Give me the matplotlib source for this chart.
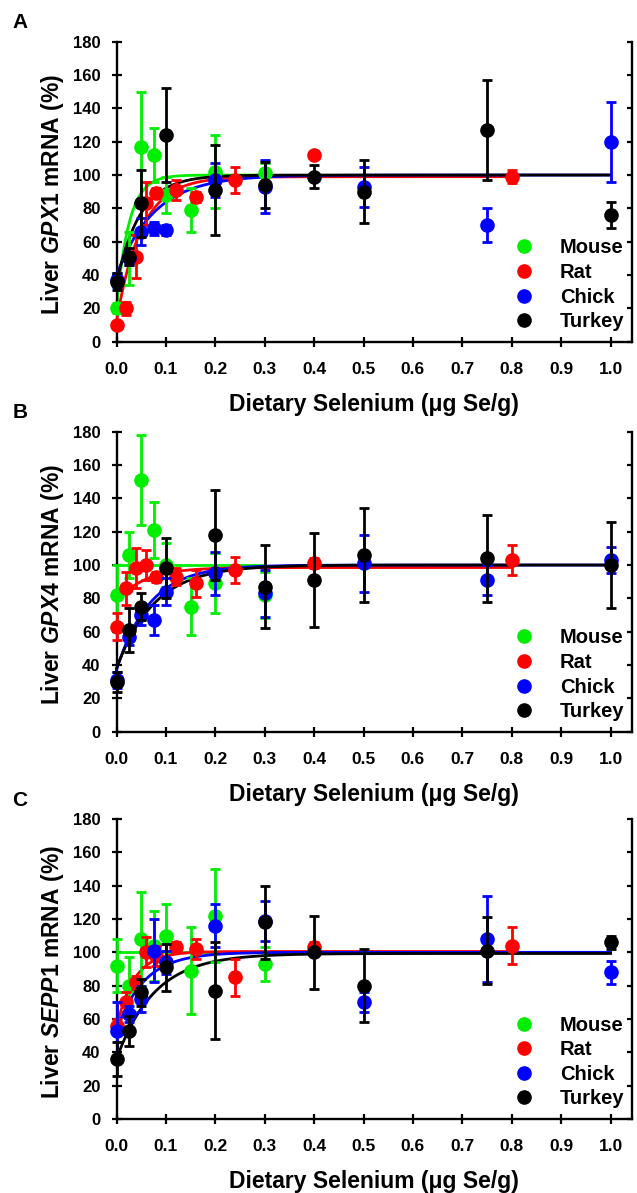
import matplotlib
matplotlib.use('Agg')
import matplotlib.pyplot as plt
from matplotlib.lines import Line2D
import numpy as np

plt.rcParams['font.family'] = ['Liberation Sans', 'DejaVu Sans']
plt.rcParams['font.weight'] = 'bold'
plt.rcParams['mathtext.fontset'] = 'custom'
plt.rcParams['mathtext.it'] = 'Liberation Sans:italic:bold'
plt.rcParams['mathtext.rm'] = 'Liberation Sans:bold'

# ---- data ----
SPECIES = ['Mouse', 'Rat', 'Chick', 'Turkey']
COLORS = ['#00ee00', '#ff0000', '#0000ff', '#000000']

# dietary Se levels per species
MOUSE_X = [0, 0.025, 0.05, 0.075, 0.1, 0.15, 0.2, 0.3]
RAT_X = [0, 0.02, 0.04, 0.06, 0.08, 0.12, 0.16, 0.24, 0.4, 0.8]
CHICK_X = [0, 0.025, 0.05, 0.075, 0.1, 0.2, 0.3, 0.5, 0.75, 1.0]
TURKEY_X = [0, 0.025, 0.05, 0.1, 0.2, 0.3, 0.4, 0.5, 0.75, 1.0]

# panel A: GPX1
GPX1_MOUSE = [20, 50, 117, 112, 88, 79, 102, 101]
GPX1_MOUSE_SE = [3, 16, 33, 16, 11, 13, 22, 6]
GPX1_RAT = [10, 20, 51, 83, 89, 91, 87, 97, 112, 99]
GPX1_RAT_SE = [2, 4, 13, 13, 3, 6, 3, 8, 2, 4]
GPX1_CHICK = [37, 50, 66, 68, 67, 97, 93, 93, 70, 120]
GPX1_CHICK_SE = [4, 4, 8, 4, 3, 10, 16, 12, 10, 24]
GPX1_TURKEY = [36, 51, 83, 124, 91, 94, 99, 90, 127, 76]
GPX1_TURKEY_SE = [5, 5, 20, 28, 27, 14, 7, 19, 30, 8]

# panel B: GPX4
GPX4_MOUSE = [82, 106, 151, 121, 100, 75, 89, 82]
GPX4_MOUSE_SE = [18, 14, 27, 17, 13, 17, 18, 14]
GPX4_RAT = [63, 86, 98, 100, 93, 93, 89, 97, 101, 103]
GPX4_RAT_SE = [8, 10, 12, 9, 3, 5, 8, 8, 3, 9]
GPX4_CHICK = [31, 57, 70, 67, 84, 95, 83, 101, 91, 103]
GPX4_CHICK_SE = [5, 5, 6, 9, 8, 13, 14, 17, 9, 8]
GPX4_TURKEY = [30, 61, 75, 98, 118, 87, 91, 106, 104, 100]
GPX4_TURKEY_SE = [6, 13, 8, 18, 27, 25, 28, 28, 26, 26]

# panel C: SEPP1
SEPP1_MOUSE = [92, 80, 108, 104, 110, 89, 122, 93]
SEPP1_MOUSE_SE = [16, 17, 28, 21, 19, 26, 28, 10]
SEPP1_RAT = [56, 70, 82, 100, 98, 103, 102, 85, 103, 104]
SEPP1_RAT_SE = [4, 6, 4, 9, 6, 3, 6, 11, 3, 11]
SEPP1_CHICK = [53, 63, 72, 101, 94, 116, 119, 70, 108, 88]
SEPP1_CHICK_SE = [17, 5, 8, 19, 7, 13, 12, 6, 26, 7]
SEPP1_TURKEY = [36, 53, 76, 91, 77, 118, 100, 80, 101, 106]
SEPP1_TURKEY_SE = [10, 9, 8, 14, 29, 22, 22, 22, 20, 4]

# fitted curves: start value, plateau, rate constant (mouse, rat, chick, turkey)
GPX1_FIT = [(20, 100, 40), (12, 99, 20), (40, 100, 13), (35, 100, 21)]
GPX4_FIT = [(100, 100, 0), (78, 98.5, 18), (37, 100, 15), (38, 100, 13)]
SEPP1_FIT = [(100, 100, 0), (55, 100.5, 28), (53, 100, 18), (36, 99.3, 13)]

XS = [MOUSE_X, RAT_X, CHICK_X, TURKEY_X]
panels = [
    ('A', 'GPX1', [GPX1_MOUSE, GPX1_RAT, GPX1_CHICK, GPX1_TURKEY],
     [GPX1_MOUSE_SE, GPX1_RAT_SE, GPX1_CHICK_SE, GPX1_TURKEY_SE], GPX1_FIT),
    ('B', 'GPX4', [GPX4_MOUSE, GPX4_RAT, GPX4_CHICK, GPX4_TURKEY],
     [GPX4_MOUSE_SE, GPX4_RAT_SE, GPX4_CHICK_SE, GPX4_TURKEY_SE], GPX4_FIT),
    ('C', 'SEPP1', [SEPP1_MOUSE, SEPP1_RAT, SEPP1_CHICK, SEPP1_TURKEY],
     [SEPP1_MOUSE_SE, SEPP1_RAT_SE, SEPP1_CHICK_SE, SEPP1_TURKEY_SE], SEPP1_FIT),
]

fig = plt.figure(figsize=(6.37, 11.93), dpi=100)
fig.patch.set_facecolor('white')

W, H = 637.0, 1193.0
AX_LEFT, AX_RIGHT = 116.5, 632.0
AX_TOPS = [41.7, 431.7, 819.0]   # pixel top of each axes
AX_H = 300.0

for (letter, gene, ys, es, fits), top in zip(panels, AX_TOPS):
    ax = fig.add_axes([AX_LEFT / W, 1 - (top + AX_H) / H,
                       (AX_RIGHT - AX_LEFT) / W, AX_H / H])
    ax.set_xlim(0, 1.0435)
    ax.set_ylim(0, 180)

    for i in range(4):
        x = np.array(XS[i])
        y0, ymax, k = fits[i]
        xf = np.linspace(0, x.max(), 300)
        yf = ymax - (ymax - y0) * np.exp(-k * xf)
        ax.plot(xf, yf, color=COLORS[i], lw=2.0, zorder=2 + i, clip_on=False)
        cont = ax.errorbar(x, ys[i], yerr=es[i], fmt='o', color=COLORS[i],
                           ms=9.5, elinewidth=2.0, capsize=3.8, capthick=2.0,
                           zorder=6 + i)
        for art in cont.lines[0:1] + tuple(cont.lines[1]) + tuple(cont.lines[2]):
            art.set_clip_on(False)

    for s in ['left', 'bottom']:
        ax.spines[s].set_linewidth(1.7)
    ax.spines['top'].set_visible(False)
    ax.spines['right'].set_visible(False)
    ax.set_xticks(np.arange(0, 1.01, 0.1))
    ax.set_xticklabels([f'{v:.1f}' for v in np.arange(0, 1.01, 0.1)])
    ax.set_yticks(range(0, 181, 20))
    ax.tick_params(axis='both', direction='inout', length=7.2, width=1.6)
    ax.tick_params(axis='y', labelsize=12, pad=8)
    ax.tick_params(axis='x', labelsize=12.5, pad=11)
    for lab in ax.get_xticklabels() + ax.get_yticklabels():
        lab.set_fontweight('bold')

    sec = ax.secondary_yaxis('right')
    sec.set_yticks(range(0, 181, 20))
    sec.tick_params(direction='in', length=3.8, width=1.6, labelright=False)
    sec.spines['right'].set_linewidth(1.7)

    ax.set_xlabel('Dietary Selenium (μg Se/g)', fontsize=16.5, fontweight='bold')
    ax.xaxis.set_label_coords(0.5, -0.17)
    ax.set_ylabel('Liver $\\mathit{' + gene + '}$ mRNA (%)', fontsize=16.5,
                  fontweight='bold')
    ax.yaxis.set_label_coords(-0.098, 0.49)

    fig.text(20 / W, 1 - (top - 19) / H, letter, fontsize=15, fontweight='bold',
             ha='center', va='center')

    handles = [Line2D([], [], ls='none', marker='o', ms=9.5, color=c) for c in COLORS]
    ax.legend(handles, SPECIES, loc='lower right', bbox_to_anchor=(0.985, 0.035),
              frameon=False, handlelength=1.0, handletextpad=1.25,
              labelspacing=0.28, borderpad=0, borderaxespad=0,
              prop={'weight': 'bold', 'size': 14.5})

fig.savefig('out.png', dpi=100, facecolor='white')
